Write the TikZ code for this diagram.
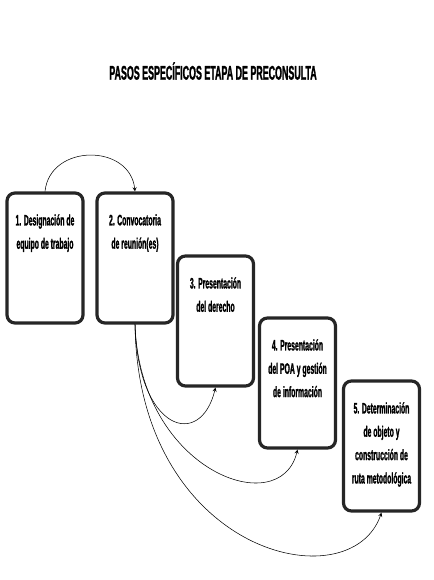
\documentclass[tikz,border=0pt]{standalone}
\usepackage{fontspec}
\setmainfont{Liberation Sans}[FakeStretch=0.45, BoldFeatures={FakeBold=1.2}]
\usetikzlibrary{arrows}
\begin{document}
\begin{tikzpicture}[x=0.75pt, y=0.75pt, line cap=round, line join=round, >=stealth, font=\bfseries,
	stepbox/.style={draw=black!85, line width=2.4pt, rounded corners=6pt, fill=white, minimum width=57pt, minimum height=97.5pt, inner sep=0pt},
	steptext/.style={anchor=north, align=center, inner sep=0pt, font=\fontsize{11.4}{17.5}\selectfont\bfseries}]
			\useasboundingbox (0,0) rectangle (434,580);
			\node[font=\fontsize{14.8}{16}\selectfont\bfseries] (title) at (213,509) {PASOS ESPECÍFICOS ETAPA DE PRECONSULTA};
			\foreach \n/\x/\y/\txt in {1/45/322/{1. Designación de\\equipo de trabajo}, 2/135/322/{2. Convocatoria\\de reunión(es)}, 3/215.5/259/{3. Presentación\\del derecho}, 4/297.5/197/{4. Presentación\\del POA y gestión\\de información}, 5/381.5/134/{5. Determinación\\de objeto y\\construcción de\\ruta metodológica}} {
				\node[stepbox] (p\n) at (\x,\y) {};
				\node[steptext] (t\n) at ([yshift=-17pt]p\n.north) {\txt};
			}
			\draw[->] (p1.north) .. controls +(5,48) and +(-5,48) .. (p2.north);
			\draw[->] (p2.south) .. controls +(3,-107) and +(-15,-62) .. (p3.south);
			\draw[->] (p2.south) .. controls +(5,-147) and +(-17,-72) .. (p4.south);
			\draw[->] (p2.south) .. controls +(3,-230) and +(-31,-90) .. (p5.south);
	\end{tikzpicture}
\end{document}
